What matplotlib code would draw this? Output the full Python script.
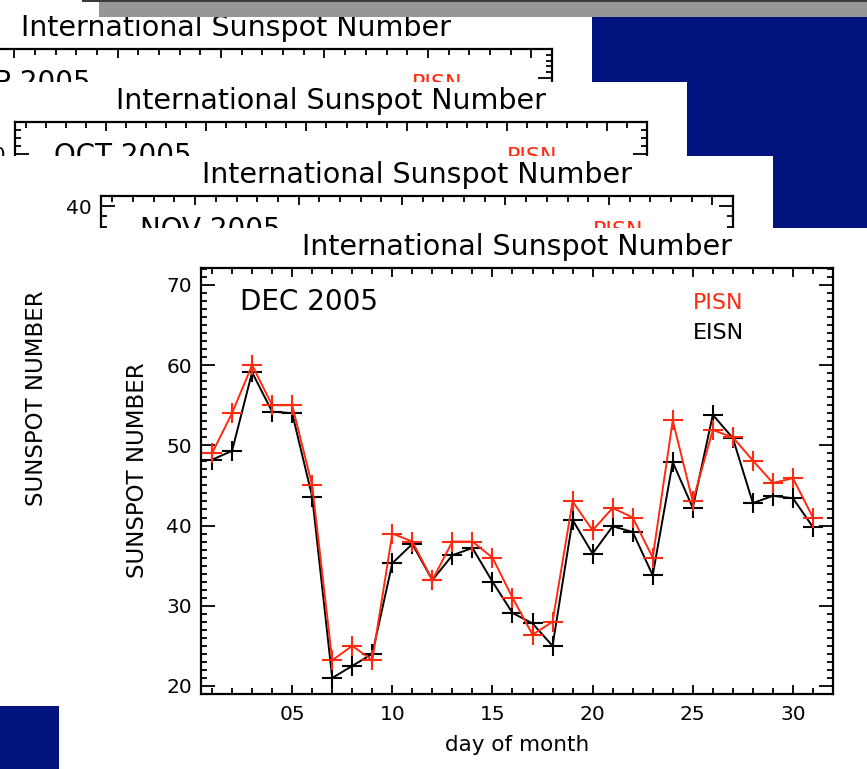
import matplotlib
matplotlib.use("Agg")
import matplotlib.pyplot as plt
from matplotlib.patches import Rectangle
from matplotlib.ticker import MultipleLocator, FixedLocator, FixedFormatter

plt.rcParams['font.family'] = ['DejaVu Sans']

# ---------------- data (December 2005) ----------------
days = list(range(1, 32))
pisn = [49, 54, 60, 55, 55, 45, 23.2, 25, 23.2, 39, 38, 33.2, 38, 38, 36, 31,
        26.4, 28, 43, 39.4, 42.2, 41, 36, 53.1, 43, 51.9, 51, 48.1, 45.3, 45.9, 41]
eisn = [48.2, 49.3, 59.1, 54.2, 54, 43.6, 21, 22.5, 24, 35.3, 37.7, 33.2, 36.3,
        37.2, 33, 29.1, 27.8, 25, 40.7, 36.5, 39.9, 39.2, 33.8, 47.9, 42.2, 53.8,
        50.9, 42.8, 43.7, 43.4, 39.8]

title_text = "International Sunspot Number"
ylabel_text = "SUNSPOT NUMBER"
xlabel_text = "day of month"
xtick_vals = [5, 10, 15, 20, 25, 30]
xtick_labels = ["05", "10", "15", "20", "25", "30"]
legend_names = ["PISN", "EISN"]

# stacked slides: (month label, days in month, y-range)
slides = [
    ("SEP 2005", 30, (0, 75)),
    ("OCT 2005", 31, (0, 54)),
    ("NOV 2005", 30, (0, 41)),
    ("DEC 2005", 31, (19, 72.1)),
]
offsets = [(-281, -218.7), (-186, -145.7), (-100, -72.3), (0, 0)]

W, H = 867, 769
fig = plt.figure(figsize=(W / 100, H / 100), dpi=100)

RED = '#ff2a10'
NAVY = '#00137f'


def fx(x):
    return x / W


def fy(y):
    return 1 - y / H


def rect(x0, y0, x1, y1, color, z):
    fig.add_artist(Rectangle((fx(x0), fy(y1)), (x1 - x0) / W, (y1 - y0) / H,
                             transform=fig.transFigure, facecolor=color,
                             edgecolor='none', zorder=z))


# navy background
rect(0, 0, W, H, NAVY, 0)

for i, ((label, nd, ylim), (dx, dy)) in enumerate(zip(slides, offsets)):
    z = 2 + 3 * i
    left, right = 201 + dx, 833 + dx
    top, bottom = 268 + dy, 694 + dy
    # white slide
    wtop = 0 if i == 0 else top - 40
    rect(left - 142, wtop, right + 40, bottom + 84, 'white', z)
    ax = fig.add_axes([fx(left), fy(bottom), (right - left) / W, (bottom - top) / H],
                      zorder=z + 1)
    ax.set_facecolor('none')
    ax.set_xlim(0.45, nd + 1)
    ax.set_ylim(*ylim)
    ax.xaxis.set_major_locator(FixedLocator(xtick_vals))
    ax.xaxis.set_major_formatter(FixedFormatter(xtick_labels))
    ax.xaxis.set_minor_locator(MultipleLocator(1))
    ax.yaxis.set_major_locator(MultipleLocator(10))
    ax.yaxis.set_minor_locator(MultipleLocator(1))
    ax.tick_params(which='both', direction='in', top=True, right=True,
                   colors='black', width=1.3)
    ax.xaxis.set_tick_params(which='major', length=6.5, pad=8, labelsize=14.5)
    ax.xaxis.set_tick_params(which='minor', length=4.3)
    ax.yaxis.set_tick_params(which='major', length=10, pad=6.5, labelsize=14.5)
    ax.yaxis.set_tick_params(which='minor', length=4.3)
    for sp in ax.spines.values():
        sp.set_linewidth(1.6)
    if label == "DEC 2005":
        ax.plot(days, eisn, color='black', lw=1.4, marker='+', ms=14, mew=1.5)
        ax.plot(days, pisn, color=RED, lw=1.4, marker='+', ms=14, mew=1.5)
    # texts
    ax.text(39 / 632, 1 - 34 / 426, label, transform=ax.transAxes,
            fontsize=20, ha='left', va='center', color='black')
    ax.text(492 / 632, 1 - 35 / 426, legend_names[0], transform=ax.transAxes,
            fontsize=16, ha='left', va='center', color=RED)
    ax.text(492 / 632, 1 - 65 / 426, legend_names[1], transform=ax.transAxes,
            fontsize=16, ha='left', va='center', color='black')
    fig.text(fx((left + right) / 2), fy(top - 21), title_text, fontsize=20.5,
             ha='center', va='center', zorder=z + 1)
    fig.text(fx(left - 64), fy(top + 202), ylabel_text, fontsize=16.5,
             rotation=90, ha='center', va='center', zorder=z + 1)
    fig.text(fx((left + right) / 2), fy(bottom + 51), xlabel_text, fontsize=15.5,
             ha='center', va='center', zorder=z + 1)

# grey bar on top
rect(99, 0, W, 17, '#969696', 20)
rect(82, 0, W, 1.5, '#3a3a3a', 21)
# navy block bottom-left
rect(0, 706, 59, H, NAVY, 20)

fig.savefig("out.png", dpi=100)
